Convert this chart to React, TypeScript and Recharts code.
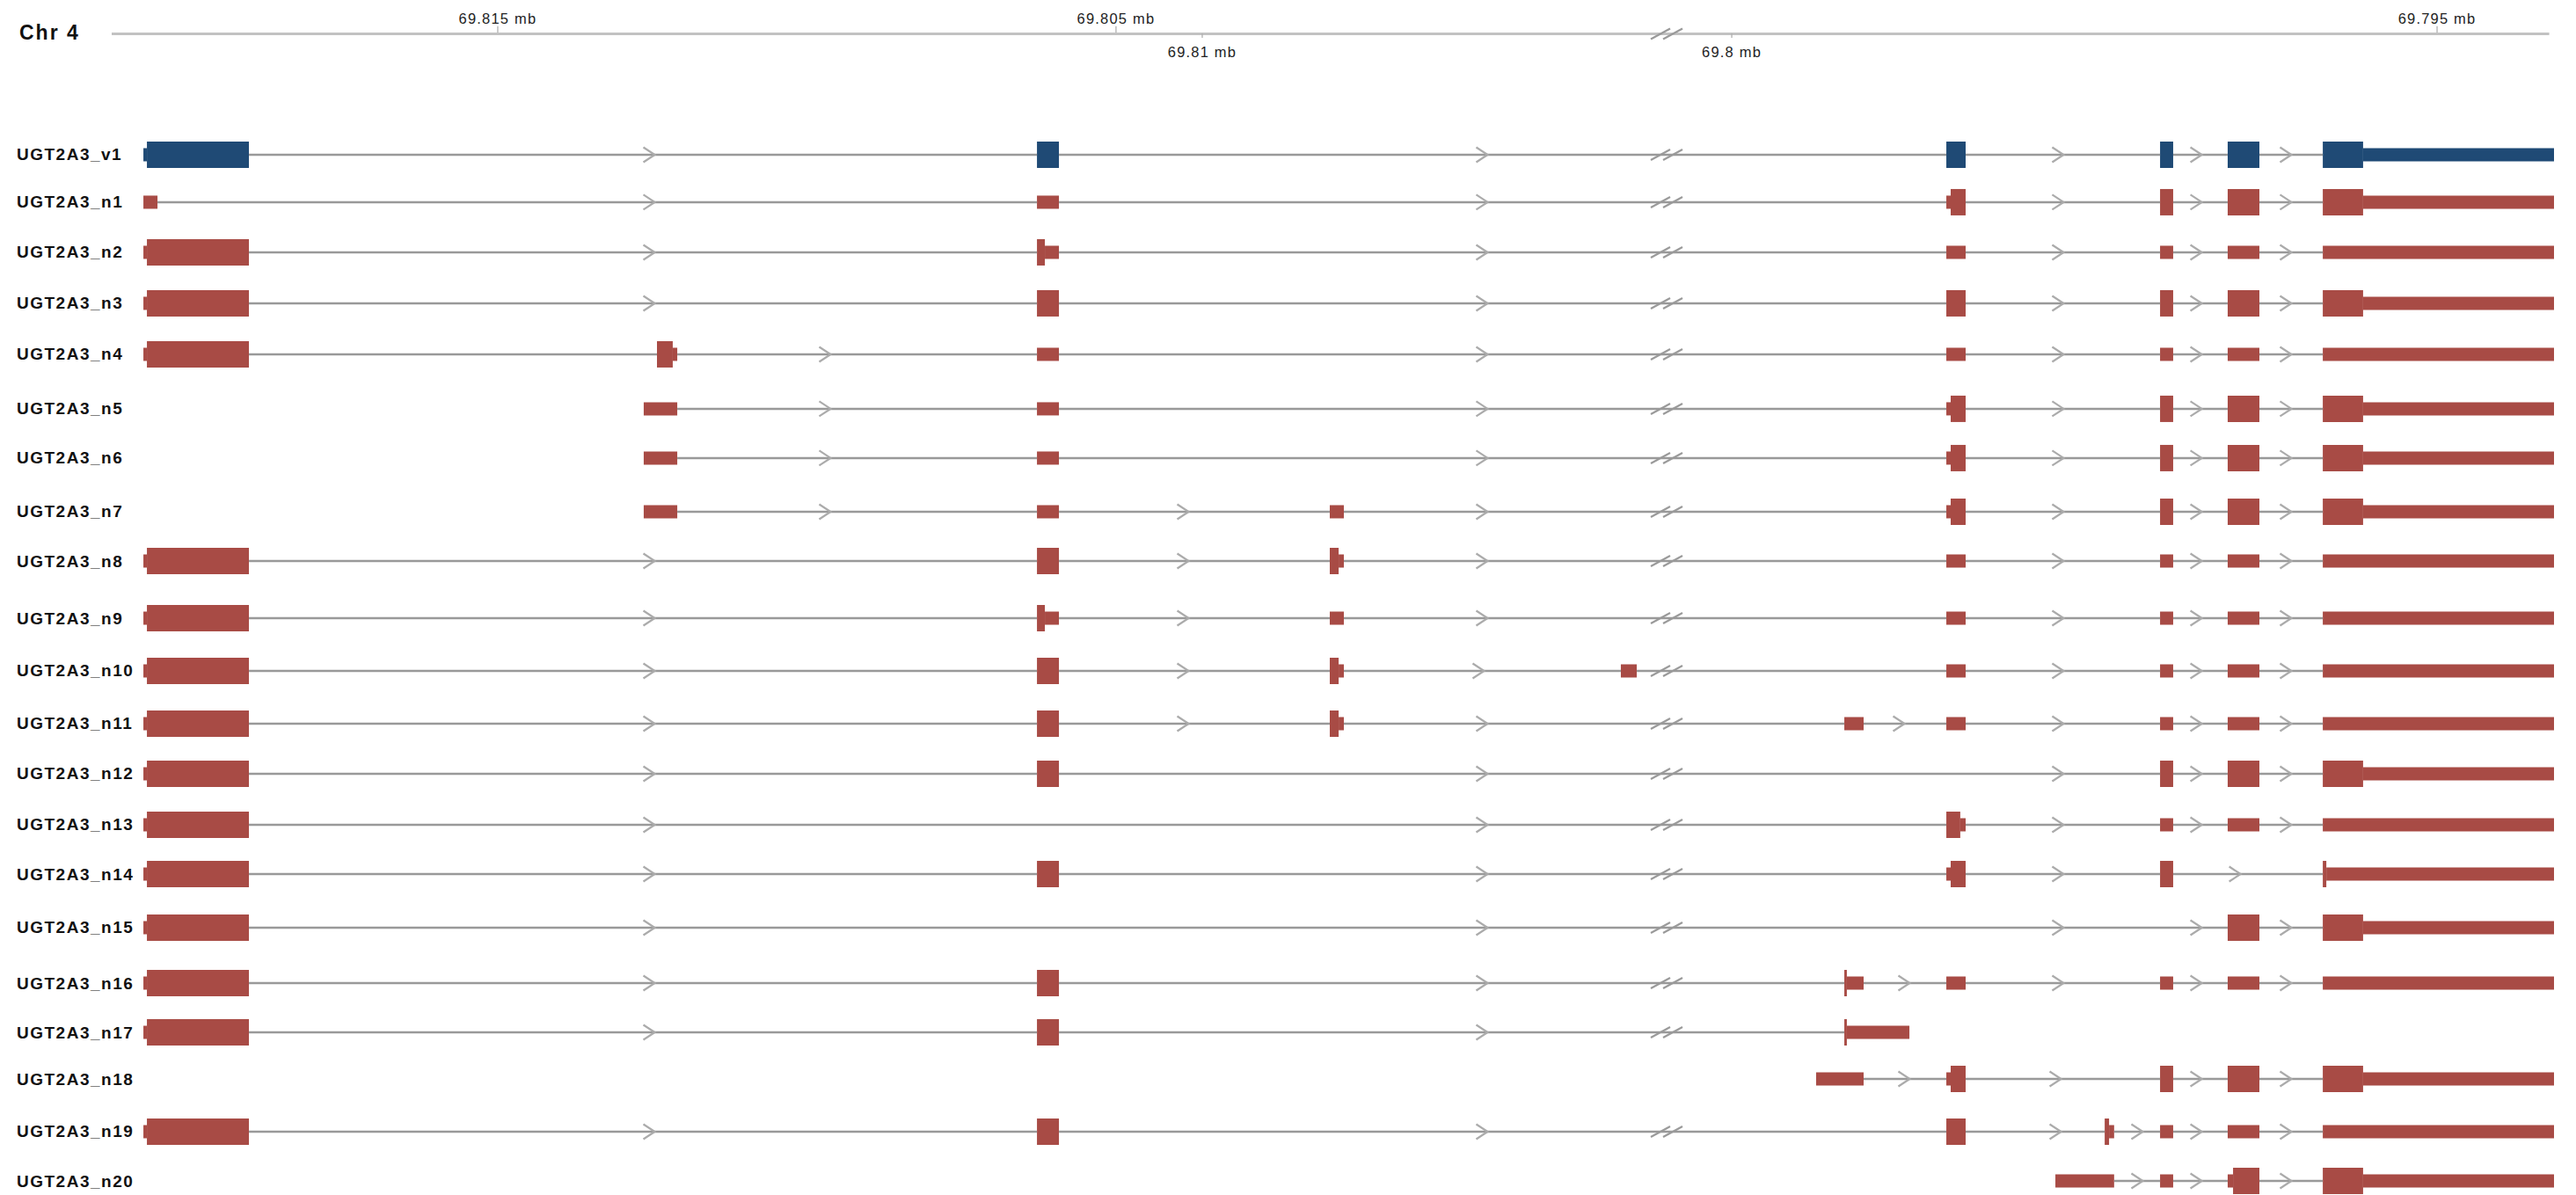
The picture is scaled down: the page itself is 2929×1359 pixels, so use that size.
import React from 'react';
import { ComposedChart, XAxis, YAxis, Scatter, ReferenceArea, ReferenceLine, ReferenceDot } from 'recharts';

// positions are bp along the (compressed) track
type Seg = [number, number, number]; // start, end, 1 = coding (tall), 0 = UTR (short)

const transcripts = [
  'UGT2A3_v1', 'UGT2A3_n1', 'UGT2A3_n2', 'UGT2A3_n3', 'UGT2A3_n4', 'UGT2A3_n5', 'UGT2A3_n6',
  'UGT2A3_n7', 'UGT2A3_n8', 'UGT2A3_n9', 'UGT2A3_n10', 'UGT2A3_n11', 'UGT2A3_n12', 'UGT2A3_n13',
  'UGT2A3_n14', 'UGT2A3_n15', 'UGT2A3_n16', 'UGT2A3_n17', 'UGT2A3_n18', 'UGT2A3_n19', 'UGT2A3_n20',
];

// vertical track position of each transcript (row units, spacing is not quite even in the source)
const rowPos = [
  0, 0.925, 1.902, 2.896, 3.89, 4.952, 5.912, 6.958, 7.918, 9.032, 10.06,
  11.088, 12.065, 13.059, 14.019, 15.064, 16.144, 17.104, 18.012, 19.04, 20.0,
];

const rulerTicks = [2740, 7128, 7740, 11498, 16504];
const rulerLabels = ['69.815 mb', '69.805 mb', '69.81 mb', '69.8 mb', '69.795 mb'];
const rulerSide = ['above', 'above', 'below', 'below', 'above'];
const rulerEnd = 17300;
const breakPos = 11036;

// shared exons
const exA: Seg[] = [[225, 250, 0], [250, 974, 1]];
const exB: Seg[] = [[6567, 6723, 1]];
const exBu: Seg[] = [[6567, 6723, 0]];
const exBn: Seg[] = [[6567, 6623, 1], [6623, 6723, 0]];
const exC: Seg[] = [[13021, 13158, 1]];
const exCu: Seg[] = [[13021, 13158, 0]];
const exCn: Seg[] = [[13021, 13052, 0], [13052, 13158, 1]];
const exD: Seg[] = [[14538, 14631, 1]];
const exDu: Seg[] = [[14538, 14631, 0]];
const exE: Seg[] = [[15018, 15243, 1]];
const exEu: Seg[] = [[15018, 15243, 0]];
const exF: Seg[] = [[15693, 15979, 1], [15979, 17334, 0]];
const exFu: Seg[] = [[15693, 17334, 0]];
const exX1: Seg[] = [[3776, 4014, 0]];
const exX2: Seg[] = [[8645, 8745, 0]];
const exX2n: Seg[] = [[8645, 8708, 1], [8708, 8745, 0]];

const exonSets: Seg[][] = [
  [...exA, ...exB, ...exC, ...exD, ...exE, ...exF],
  [[225, 325, 0], ...exBu, ...exCn, ...exD, ...exE, ...exF],
  [...exA, ...exBn, ...exCu, ...exDu, ...exEu, ...exFu],
  [...exA, ...exB, ...exC, ...exD, ...exE, ...exF],
  [...exA, [3870, 3982, 1], [3982, 4014, 0], ...exBu, ...exCu, ...exDu, ...exEu, ...exFu],
  [...exX1, ...exBu, ...exCn, ...exD, ...exE, ...exF],
  [...exX1, ...exBu, ...exCn, ...exD, ...exE, ...exF],
  [...exX1, ...exBu, ...exX2, ...exCn, ...exD, ...exE, ...exF],
  [...exA, ...exB, ...exX2n, ...exCu, ...exDu, ...exEu, ...exFu],
  [...exA, ...exBn, ...exX2, ...exCu, ...exDu, ...exEu, ...exFu],
  [...exA, ...exB, ...exX2n, [10711, 10824, 0], ...exCu, ...exDu, ...exEu, ...exFu],
  [...exA, ...exB, ...exX2n, [12297, 12434, 0], ...exCu, ...exDu, ...exEu, ...exFu],
  [...exA, ...exB, ...exD, ...exE, ...exF],
  [...exA, [13021, 13120, 1], [13120, 13158, 0], ...exDu, ...exEu, ...exFu],
  [...exA, ...exB, ...exCn, ...exD, [15693, 15718, 1], [15718, 17334, 0]],
  [...exA, ...exE, ...exF],
  [...exA, ...exB, [12297, 12315, 1], [12315, 12434, 0], ...exCu, ...exDu, ...exEu, ...exFu],
  [...exA, ...exB, [12297, 12315, 1], [12315, 12759, 0]],
  [[12097, 12434, 0], ...exCn, ...exD, ...exE, ...exF],
  [...exA, ...exB, ...exC, [14145, 14176, 1], [14176, 14212, 0], ...exDu, ...exEu, ...exFu],
  [[13795, 14212, 0], ...exDu, [15018, 15056, 0], [15056, 15243, 1], ...exF],
];

const chevronSets: number[][] = [
  [3814, 9725, 13813, 14794, 15430],
  [3814, 9725, 13813, 14794, 15430],
  [3814, 9725, 13813, 14794, 15430],
  [3814, 9725, 13813, 14794, 15430],
  [5062, 9725, 13813, 14794, 15430],
  [5062, 9725, 13813, 14794, 15430],
  [5062, 9725, 13813, 14794, 15430],
  [5062, 7603, 9725, 13813, 14794, 15430],
  [3814, 7603, 9725, 13813, 14794, 15430],
  [3814, 7603, 9725, 13813, 14794, 15430],
  [3814, 7603, 9700, 13813, 14794, 15430],
  [3814, 7603, 9725, 12684, 13813, 14794, 15430],
  [3814, 9725, 13813, 14794, 15430],
  [3814, 9725, 13813, 14794, 15430],
  [3814, 9725, 13813, 15069],
  [3814, 9725, 13813, 14794, 15430],
  [3814, 9725, 12721, 13813, 14794, 15430],
  [3814, 9725],
  [12721, 13795, 14794, 15430],
  [3814, 9725, 13795, 14375, 14794, 15430],
  [14375, 14794, 15430],
];

const W = 2929;
const H = 1359;
const RULER_Y = -2.356;
const TALL = 0.257;
const SHORT = 0.1285;
const BLUE = '#1f4a75';
const RED = '#a84b45';
const FONT = '"Liberation Sans", Arial, Helvetica, sans-serif';

const chevronPoints = chevronSets.flatMap((xs, i) => xs.map((x) => ({ x, y: rowPos[i] })));
const breakPoints = exonSets
  .map((segs, i) => ({ segs, i }))
  .filter(({ segs }) => segs[0][0] < breakPos && segs[segs.length - 1][1] > breakPos)
  .map(({ i }) => ({ x: breakPos, y: rowPos[i] }));

const Chevron = (p: any) => (
  <path
    d={`M${p.cx - 6.5},${p.cy - 8.5} L${p.cx + 6.5},${p.cy} L${p.cx - 6.5},${p.cy + 8.5}`}
    fill="none"
    stroke="#ababab"
    strokeWidth={2.2}
  />
);

const BreakMark = (p: any) => (
  <g stroke="#9a9a9a" strokeWidth={2.2}>
    <line x1={p.cx - 18} y1={p.cy + 6} x2={p.cx + 4} y2={p.cy - 6} />
    <line x1={p.cx - 4} y1={p.cy + 6} x2={p.cx + 18} y2={p.cy - 6} />
  </g>
);

const rulerTick = (label: string, side: string) => (p: any) => {
  const above = side === 'above';
  return (
    <g>
      <line
        x1={p.cx}
        x2={p.cx}
        y1={above ? p.cy - 8.7 : p.cy}
        y2={above ? p.cy - 1.4 : p.cy + 4.6}
        stroke="#aaaaaa"
        strokeWidth={1.2}
      />
      <text
        x={p.cx}
        y={above ? p.cy - 12 : p.cy + 26.3}
        textAnchor="middle"
        fontFamily={FONT}
        fontSize={16.5}
        letterSpacing={1.2}
        fill="#222"
      >
        {label}
      </text>
    </g>
  );
};

const RowLabel = (p: any) => {
  const i = rowPos.indexOf(p.payload.value);
  return (
    <text
      x={19}
      y={p.y}
      dominantBaseline="central"
      fontFamily={FONT}
      fontWeight="bold"
      fontSize={19}
      letterSpacing={1.5}
      fill="#111"
    >
      {transcripts[i]}
    </text>
  );
};

export default function App() {
  const introns = exonSets.flatMap((segs, i) =>
    segs
      .slice(1)
      .map((s, k) => ({ x1: segs[k][1], x2: s[0], y: rowPos[i] }))
      .filter((g) => g.x2 > g.x1)
  );

  return (
    <div style={{ position: 'absolute', left: 0, top: 0, width: W, height: H, background: '#fff' }}>
      <div
        style={{
          position: 'absolute',
          left: 22,
          top: 25.5,
          fontFamily: FONT,
          fontWeight: 'bold',
          fontSize: 23,
          lineHeight: 1,
          letterSpacing: 2,
          color: '#111',
          zIndex: 2,
        }}
      >
        Chr 4
      </div>
      <ComposedChart width={W} height={H} margin={{ top: 38.5, right: 25, bottom: 1.4, left: 0 }}>
        <XAxis type="number" dataKey="x" domain={[0, 17334]} allowDataOverflow hide />
        <YAxis
          type="number"
          dataKey="y"
          domain={[RULER_Y, 20.25]}
          reversed
          allowDataOverflow
          width={127}
          ticks={rowPos}
          interval={0}
          tick={RowLabel}
          axisLine={false}
          tickLine={false}
        />

        <ReferenceLine
          segment={[{ x: 0, y: RULER_Y }, { x: rulerEnd, y: RULER_Y }]}
          stroke="#c2c2c2"
          strokeWidth={3.2}
          ifOverflow="visible"
        />
        {rulerTicks.map((x, i) => (
          <ReferenceDot
            key={`rt-${i}`}
            x={x}
            y={RULER_Y}
            r={0}
            ifOverflow="visible"
            shape={rulerTick(rulerLabels[i], rulerSide[i])}
          />
        ))}
        <ReferenceDot x={breakPos} y={RULER_Y} r={0} ifOverflow="visible" shape={BreakMark} />

        {introns.map((g, k) => (
          <ReferenceLine
            key={`in-${k}`}
            segment={[{ x: g.x1, y: g.y }, { x: g.x2, y: g.y }]}
            stroke="#999999"
            strokeWidth={2.4}
            ifOverflow="visible"
          />
        ))}

        {exonSets.flatMap((segs, i) =>
          segs.map((s, k) => (
            <ReferenceArea
              key={`ex-${i}-${k}`}
              x1={s[0]}
              x2={s[1]}
              y1={rowPos[i] - (s[2] ? TALL : SHORT)}
              y2={rowPos[i] + (s[2] ? TALL : SHORT)}
              fill={i === 0 ? BLUE : RED}
              fillOpacity={1}
              stroke="none"
              ifOverflow="visible"
            />
          ))
        )}

        <Scatter data={chevronPoints} shape={Chevron} isAnimationActive={false} />
        <Scatter data={breakPoints} shape={BreakMark} isAnimationActive={false} />
      </ComposedChart>
    </div>
  );
}
